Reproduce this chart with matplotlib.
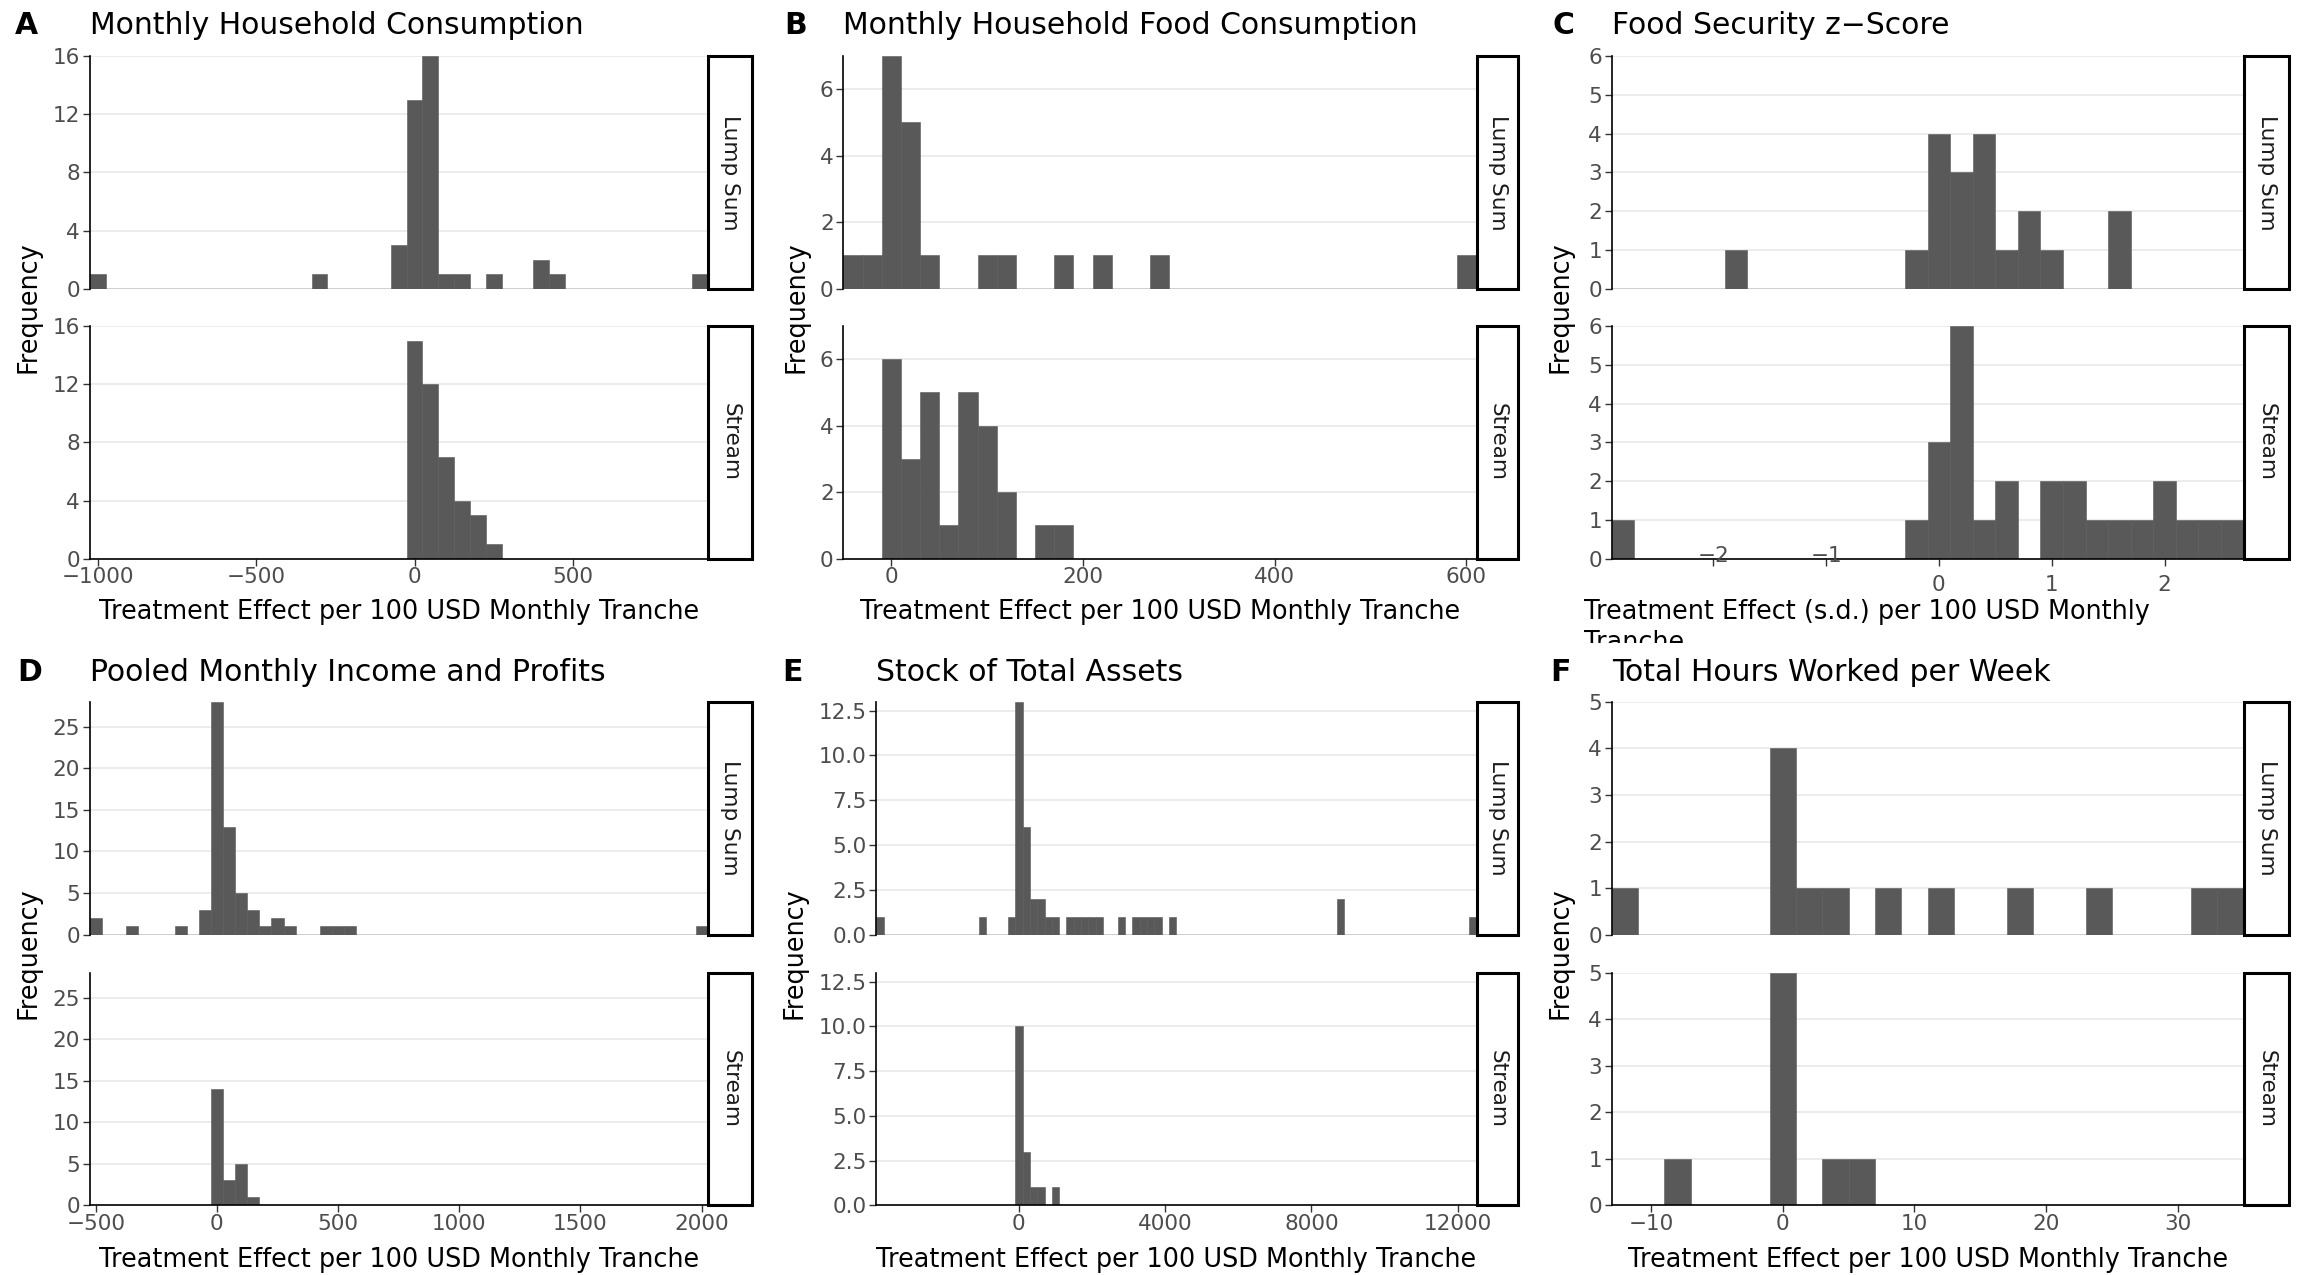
import matplotlib.pyplot as plt
from matplotlib.patches import Rectangle
from matplotlib.transforms import Bbox, TransformedBbox

plt.rcParams['font.family'] = 'DejaVu Sans'
plt.rcParams['axes.unicode_minus'] = True

W, H = 2297, 1275

# ---- histogram data: centres of the non-empty bins and their counts ----
# A  Monthly Household Consumption (bin width 50)
a_lump_x = [-1000, -300, -50, 0, 50, 100, 150, 250, 400, 450, 900]
a_lump_n = [1, 1, 3, 13, 16, 1, 1, 1, 2, 1, 1]
a_stream_x = [0, 50, 100, 150, 200, 250]
a_stream_n = [15, 12, 7, 4, 3, 1]

# B  Monthly Household Food Consumption (bin width 20)
b_lump_x = [-40, -20, 0, 20, 40, 100, 120, 180, 220, 280, 600]
b_lump_n = [1, 1, 7, 5, 1, 1, 1, 1, 1, 1, 1]
b_stream_x = [0, 20, 40, 60, 80, 100, 120, 160, 180]
b_stream_n = [6, 3, 5, 1, 5, 4, 2, 1, 1]

# C  Food Security z-Score (bin width 0.2)
c_lump_x = [-1.8, -0.2, 0.0, 0.2, 0.4, 0.6, 0.8, 1.0, 1.6]
c_lump_n = [1, 1, 4, 3, 4, 1, 2, 1, 2]
c_stream_x = [-2.8, -0.2, 0.0, 0.2, 0.4, 0.6, 1.0, 1.2, 1.4, 1.6, 1.8, 2.0, 2.2, 2.4, 2.6]
c_stream_n = [1, 1, 3, 6, 1, 2, 2, 2, 1, 1, 1, 2, 1, 1, 1]

# D  Pooled Monthly Income and Profits (bin width 50)
d_lump_x = [-500, -350, -150, -50, 0, 50, 100, 150, 200, 250, 300, 450, 500, 550, 2000]
d_lump_n = [2, 1, 1, 3, 28, 13, 5, 3, 1, 2, 1, 1, 1, 1, 1]
d_stream_x = [0, 50, 100, 150]
d_stream_n = [14, 3, 5, 1]

# E  Stock of Total Assets (bin width 200)
e_lump_x = [-3800, -1000, -200, 0, 200, 400, 600, 800, 1000, 1400, 1600, 1800, 2000, 2200,
            2800, 3200, 3400, 3600, 3800, 4200, 8800, 12400]
e_lump_n = [1, 1, 1, 13, 6, 2, 2, 1, 1, 1, 1, 1, 1, 1,
            1, 1, 1, 1, 1, 1, 2, 1]
e_stream_x = [0, 200, 400, 600, 1000]
e_stream_n = [10, 3, 1, 1, 1]

# F  Total Hours Worked per Week (bin width 2)
f_lump_x = [-12, 0, 2, 4, 8, 12, 18, 24, 32, 34]
f_lump_n = [1, 4, 1, 1, 1, 1, 1, 1, 1, 1]
f_stream_x = [-8, 0, 4, 6]
f_stream_n = [1, 5, 1, 1]

facet_labels = ["Lump Sum", "Stream"]
x_title = "Treatment Effect per 100 USD Monthly Tranche"

panels = [
    dict(tag="A", title="Monthly Household Consumption", bw=50,
         data=[(a_lump_x, a_lump_n), (a_stream_x, a_stream_n)],
         xlim=(-1025, 925), ylim=16, yticks=[0, 4, 8, 12, 16],
         yticklabels=["0", "4", "8", "12", "16"],
         xticks=[-1000, -500, 0, 500], xticklabels=["\u22121000", "\u2212500", "0", "500"]),
    dict(tag="B", title="Monthly Household Food Consumption", bw=20,
         data=[(b_lump_x, b_lump_n), (b_stream_x, b_stream_n)],
         xlim=(-50, 610), ylim=7, yticks=[0, 2, 4, 6],
         yticklabels=["0", "2", "4", "6"],
         xticks=[0, 200, 400, 600], xticklabels=["0", "200", "400", "600"]),
    dict(tag="C", title="Food Security z\u2212Score", bw=0.2,
         data=[(c_lump_x, c_lump_n), (c_stream_x, c_stream_n)],
         xlim=(-2.9, 2.7), ylim=6, yticks=[0, 1, 2, 3, 4, 5, 6],
         yticklabels=["0", "1", "2", "3", "4", "5", "6"],
         xticks=[-2, -1, 0, 1, 2], xticklabels=["\u22122", "\u22121", "0", "1", "2"]),
    dict(tag="D", title="Pooled Monthly Income and Profits", bw=50,
         data=[(d_lump_x, d_lump_n), (d_stream_x, d_stream_n)],
         xlim=(-525, 2025), ylim=28, yticks=[0, 5, 10, 15, 20, 25],
         yticklabels=["0", "5", "10", "15", "20", "25"],
         xticks=[-500, 0, 500, 1000, 1500, 2000],
         xticklabels=["\u2212500", "0", "500", "1000", "1500", "2000"]),
    dict(tag="E", title="Stock of Total Assets", bw=200,
         data=[(e_lump_x, e_lump_n), (e_stream_x, e_stream_n)],
         xlim=(-3900, 12500), ylim=13, yticks=[0, 2.5, 5, 7.5, 10, 12.5],
         yticklabels=["0.0", "2.5", "5.0", "7.5", "10.0", "12.5"],
         xticks=[0, 4000, 8000, 12000], xticklabels=["0", "4000", "8000", "12000"]),
    dict(tag="F", title="Total Hours Worked per Week", bw=2,
         data=[(f_lump_x, f_lump_n), (f_stream_x, f_stream_n)],
         xlim=(-13, 35), ylim=5, yticks=[0, 1, 2, 3, 4, 5],
         yticklabels=["0", "1", "2", "3", "4", "5"],
         xticks=[-10, 0, 10, 20, 30], xticklabels=["\u221210", "0", "10", "20", "30"]),
]

# layout in pixels of the full image
col_x = [(89.7, 707.7, 752.3, 14.5, 28), (843.4, 1476, 1518.6, 784, 797),
         (1611.7, 2243.5, 2289, 1552, 1560)]
col_x_row2 = [(89.7, 707.7, 752.3, 17, 28), (876.3, 1476, 1518.6, 782, 794),
              (1611.7, 2243.5, 2289, 1550, 1560)]
rows = [dict(facets=[(56, 288.7), (326, 558.7)], title_base=34.3, xlab_base=619),
        dict(facets=[(701.7, 934.7), (972.7, 1205.3)], title_base=680.7, xlab_base=1266.7)]

BAR = "#595959"
TICK_FS = 15.5
fig = plt.figure(figsize=(W / 100, H / 100), dpi=100)
fig.patch.set_facecolor("white")


def px_axes(x0, y0, x1, y1):
    return fig.add_axes([x0 / W, 1 - y1 / H, (x1 - x0) / W, (y1 - y0) / H])


for i, p in enumerate(panels):
    r = rows[i // 3]
    px0, px1, sx1, tag_x, ylab_x = (col_x if i < 3 else col_x_row2)[i % 3]
    for j, (fy0, fy1) in enumerate(r["facets"]):
        ax = px_axes(px0, fy0, px1, fy1)
        xs, ns = p["data"][j]
        ax.bar(xs, ns, width=p["bw"], color=BAR, edgecolor=BAR, linewidth=0.4, zorder=2)
        ax.set_xlim(*p["xlim"])
        ax.set_ylim(0, p["ylim"])
        ax.set_yticks(p["yticks"])
        ax.set_yticklabels(p["yticklabels"])
        ax.grid(axis="y", color="#EBEBEB", lw=1.3)
        ax.set_axisbelow(True)
        for s in ["top", "right"]:
            ax.spines[s].set_visible(False)
        ax.spines["left"].set_color("black")
        ax.spines["left"].set_linewidth(1.2)
        ax.tick_params(axis="y", length=5, width=1, color="#333333",
                       labelsize=TICK_FS, labelcolor="#4D4D4D", pad=2)
        if j == 0:
            ax.spines["bottom"].set_visible(False)
            ax.axhline(0, color=BAR, lw=1.0, zorder=1.5)
            ax.set_xticks([])
        else:
            ax.spines["bottom"].set_color("black")
            ax.spines["bottom"].set_linewidth(1.2)
            ax.set_xticks(p["xticks"])
            if p["tag"] == "C":
                # -2 and -1 labels sit on the axis line in the original
                ax.set_xticklabels(["", ""] + p["xticklabels"][2:])
                ax.tick_params(axis="x", length=5, width=1, color="#333333",
                               labelsize=TICK_FS, labelcolor="#4D4D4D", pad=7)
                for xv, lab in zip(p["xticks"][:2], p["xticklabels"][:2]):
                    ax.text(xv, 0.012, lab, transform=ax.get_xaxis_transform(),
                            ha="center", va="center", fontsize=TICK_FS, color="#4D4D4D",
                            zorder=5, clip_on=False)
            else:
                ax.set_xticklabels(p["xticklabels"])
                ax.tick_params(axis="x", length=5, width=1, color="#333333",
                               labelsize=TICK_FS, labelcolor="#4D4D4D", pad=1)
        # facet strip on the right
        fig.add_artist(Rectangle((px1 / W + 0.5 / W, 1 - fy1 / H), (sx1 - px1 - 1) / W, (fy1 - fy0) / H,
                                 transform=fig.transFigure, fc="white", ec="black", lw=2.2))
        fig.text(((px1 + sx1) / 2 + 0.5) / W, 1 - (fy0 + fy1) / 2 / H, facet_labels[j],
                 rotation=-90, ha="center", va="center", fontsize=15.5, color="#1A1A1A")

    # title and tag
    fig.text(tag_x / W, 1 - r["title_base"] / H, p["tag"], fontsize=21.5,
             fontweight="bold", ha="left", va="baseline")
    fig.text(px0 / W, 1 - r["title_base"] / H, p["title"], fontsize=21.5,
             ha="left", va="baseline")
    # y label
    yc = (r["facets"][0][0] + r["facets"][1][1]) / 2
    fig.text(ylab_x / W, 1 - yc / H, "Frequency", rotation=90, fontsize=18.4,
             ha="center", va="center")
    # x label
    if p["tag"] == "C":
        fig.text(1584.4 / W, 1 - r["xlab_base"] / H,
                 "Treatment Effect (s.d.) per 100 USD Monthly", fontsize=18.4,
                 ha="left", va="baseline")
        # second line is cut off by the lower row in the original
        t = fig.text(1584.4 / W, 1 - 650 / H, "Tranche", fontsize=18.4,
                     ha="left", va="baseline")
        t.set_clip_box(TransformedBbox(Bbox([[0, 1 - 643 / H], [1, 1]]), fig.transFigure))
        t.set_clip_on(True)
    else:
        fig.text((px0 + px1) / 2 / W, 1 - r["xlab_base"] / H, x_title, fontsize=18.4,
                 ha="center", va="baseline")

fig.savefig("out.png", dpi=100)
